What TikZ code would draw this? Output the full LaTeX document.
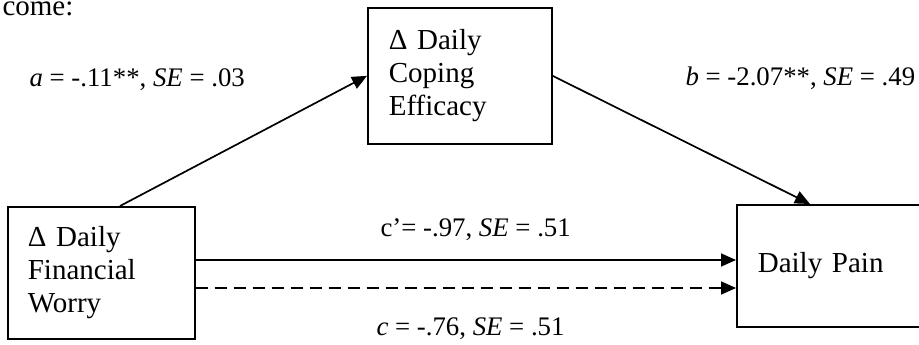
\documentclass[tikz,border=0pt]{standalone}
\usepackage{fontspec}
\setmainfont{Liberation Serif}
\usetikzlibrary{arrows.meta}
\tikzset{
  var/.style={draw, line width=1.7pt, align=left, anchor=north west,
    inner ysep=0pt, font=\fontsize{29}{33}\selectfont},
  est/.style={anchor=base west, font=\fontsize{26.8}{31}\selectfont},
  link/.style={line width=1.7pt, -{Triangle[length=15pt,width=13pt]}}
}
\begin{document}
\begin{tikzpicture}[x=1pt, y=-1pt]
    \useasboundingbox (0,0) rectangle (919,345);
    \node[var, text width=147pt, inner xsep=20pt, minimum height=132pt] (worry) at (7,206)
        {Δ Daily\\Financial\\Worry};
    \node[var, text width=142pt, inner xsep=21pt, minimum height=136pt] (coping) at (367,7)
        {Δ Daily\\Coping\\Efficacy};
    \node[var, text width=158pt, inner xsep=21pt, minimum height=122pt] (pain) at (736,204)
        {Daily Pain};
    \coordinate (direct) at ([yshift=-54pt]worry.north east);
    \coordinate (total) at ([yshift=-82pt]worry.north east);
    \draw[link] ([xshift=113pt]worry.north west) -- (coping.west);
    \draw[link] (coping.east) -- ([xshift=74pt]pain.north west);
    \draw[link] (direct) -- (direct -| pain.west);
    \draw[link, dash pattern=on 12pt off 7pt] (total) -- (total -| pain.west);
    \node[est, font=\fontsize{29}{33}\selectfont] (intro) at (-1,16) {come:};
    \node[est] (alab) at (26,87) {\textit{a} = -.11**, \textit{SE} = .03};
    \node[est] (blab) at (682,85) {\textit{b} = -2.07**, \textit{SE} = .49};
    \node[est] (cplab) at (377,236) {c’= -.97, \textit{SE} = .51};
    \node[est] (clab) at (373,335) {\textit{c} = -.76, \textit{SE} = .51};
\end{tikzpicture}
\end{document}
